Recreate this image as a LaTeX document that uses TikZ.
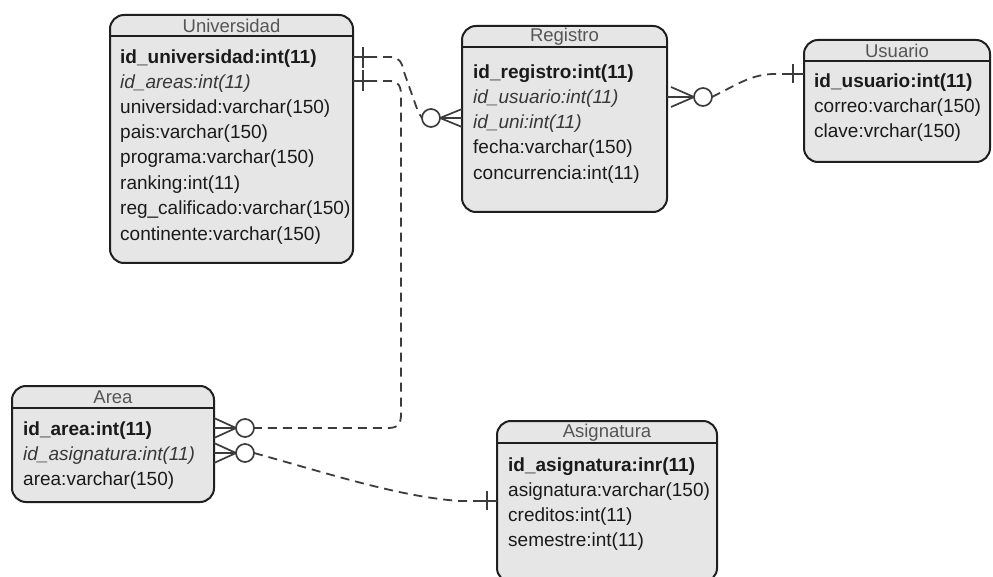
\documentclass[tikz,border=0pt]{standalone}
\usepackage{fontspec}
\setmainfont{Liberation Sans}
\definecolor{boxfill}{HTML}{E6E6E6}
\definecolor{boxline}{HTML}{1F1F1F}
\definecolor{titlegray}{HTML}{555555}
\definecolor{fieldtext}{HTML}{1A1A1A}
\definecolor{fkgray}{HTML}{383838}
\definecolor{linegray}{HTML}{3C3C3C}
\begin{document}
\begin{tikzpicture}[x=1pt,y=-1pt,
  table/.style={draw=boxline, line width=2pt, fill=boxfill, rounded corners=14pt,
    inner sep=0pt, outer sep=0pt, anchor=north west},
  hdr/.style={draw=boxline, line width=2pt},
  ttl/.style={font=\fontsize{18.5}{22}\selectfont, text=titlegray, inner sep=0pt},
  fld/.style={font=\fontsize{19}{23}\selectfont, text=fieldtext, anchor=west, inner sep=0pt},
  pkey/.style={fld, font=\fontsize{19}{23}\selectfont\bfseries},
  fkey/.style={fld, font=\fontsize{19}{23}\selectfont\itshape, text=fkgray},
  rel/.style={draw=linegray, line width=1.8pt, dash pattern=on 9pt off 6pt},
  solidend/.style={draw=linegray, line width=1.7pt},
  ring/.style={circle, draw=linegray, line width=1.7pt, fill=white, minimum size=18pt,
    inner sep=0pt, outer sep=0pt}
]
\clip (0,0) rectangle (993,577);
\fill[white] (0,0) rectangle (993,577);

% ---------- Universidad ----------
\node[table, minimum width=243pt, minimum height=248pt] (uni) at (110,15) {};
\draw[hdr] (uni.west |- 0,36) -- (uni.east |- 0,36);
\node[ttl] (uniT) at (231.5,25.5) {Universidad};
\node[pkey] (u1) at (120,59) {id\_universidad:int(11)};
\node[fkey] (u2) at (120,84) {id\_areas:int(11)};
\node[fld]  (u3) at (120,109) {universidad:varchar(150)};
\node[fld]  (u4) at (120,134) {pais:varchar(150)};
\node[fld]  (u5) at (120,159) {programa:varchar(150)};
\node[fld]  (u6) at (120,184.5) {ranking:int(11)};
\node[fld]  (u7) at (120,210) {reg\_calificado:varchar(150)};
\node[fld]  (u8) at (120,235.5) {continente:varchar(150)};

% ---------- Registro ----------
\node[table, minimum width=205pt, minimum height=186pt] (reg) at (462,26) {};
\draw[hdr] (reg.west |- 0,47) -- (reg.east |- 0,47);
\node[ttl] (regT) at (564.5,36.5) {Registro};
\node[pkey] (r1) at (473,73.5) {id\_registro:int(11)};
\node[fkey] (r2) at (473,98.5) {id\_usuario:int(11)};
\node[fkey] (r3) at (473,123.5) {id\_uni:int(11)};
\node[fld]  (r4) at (473,149) {fecha:varchar(150)};
\node[fld]  (r5) at (473,174.5) {concurrencia:int(11)};

% ---------- Usuario ----------
\node[table, minimum width=186pt, minimum height=122pt] (usr) at (804,40) {};
\draw[hdr] (usr.west |- 0,61) -- (usr.east |- 0,61);
\node[ttl] (usrT) at (897,50.5) {Usuario};
\node[pkey] (s1) at (814,83) {id\_usuario:int(11)};
\node[fld]  (s2) at (814,108) {correo:varchar(150)};
\node[fld]  (s3) at (814,133) {clave:vrchar(150)};

% ---------- Area ----------
\node[table, minimum width=202pt, minimum height=116pt] (area) at (12,386) {};
\draw[hdr] (area.west |- 0,408) -- (area.east |- 0,408);
\node[ttl] (areaT) at (113,397.5) {Area};
\node[pkey] (a1) at (23,430.5) {id\_area:int(11)};
\node[fkey] (a2) at (23,455.5) {id\_asignatura:int(11)};
\node[fld]  (a3) at (23,481) {area:varchar(150)};

% ---------- Asignatura ----------
\node[table, minimum width=220pt, minimum height=161pt] (asig) at (497,421) {};
\draw[hdr] (asig.west |- 0,443) -- (asig.east |- 0,443);
\node[ttl] (asigT) at (607,432.5) {Asignatura};
\node[pkey] (g1) at (508,466.5) {id\_asignatura:inr(11)};
\node[fld]  (g2) at (508,491.5) {asignatura:varchar(150)};
\node[fld]  (g3) at (508,516.5) {creditos:int(11)};
\node[fld]  (g4) at (508,542) {semestre:int(11)};

% ---------- relationship end markers ----------
\node[ring] (c1) at (431,118) {};
\node[ring] (c2) at (245,428) {};
\node[ring] (c3) at (245,453) {};
\node[ring] (c4) at (703,97) {};

\coordinate (t1) at (363,57);
\coordinate (t2) at (363,81);
\coordinate (t3) at (487,501);
\coordinate (t4) at (793,74);

% crow's feet (many)
\draw[solidend] (c1.east) -- (reg.west |- 0,109) (c1.east) -- (reg.west |- 0,127) (c1.east) -- (reg.west |- 0,118);
\draw[solidend] (c2.west) -- (area.east |- 0,418) (c2.west) -- (area.east |- 0,438) (c2.west) -- (area.east |- 0,428);
\draw[solidend] (c3.west) -- (area.east |- 0,443) (c3.west) -- (area.east |- 0,463) (c3.west) -- (area.east |- 0,453);
\draw[solidend] (c4.west) -- (671,87) (c4.west) -- (671,107) (c4.west) -- (reg.east |- c4);

% single bars (one)
\draw[solidend] (uni.east |- t1) -- ([xshift=5pt]t1) ([yshift=-11pt]t1) -- ([yshift=10pt]t1);
\draw[solidend] (uni.east |- t2) -- ([xshift=5pt]t2) ([yshift=-10pt]t2) -- ([yshift=11pt]t2);
\draw[solidend] (asig.west |- t3) -- ([xshift=-5pt]t3) ([yshift=-9pt]t3) -- ([yshift=10pt]t3);
\draw[solidend] (usr.west |- t4) -- ([xshift=-5pt]t4) ([yshift=-9pt]t4) -- ([yshift=10pt]t4);

% ---------- relationships ----------
\draw[rel] ([xshift=5pt]t1) -- (390,57) .. controls (399,57) and (402,62) .. (404,72)
  -- (416,106) .. controls (418,112) and (420,115) .. (c1.west);
\draw[rel] ([xshift=5pt]t2) -- (390,81) .. controls (398,81) and (401,86) .. (401,95)
  -- (401,414) .. controls (401,424) and (398,428) .. (388,428) -- (c2.east);
\draw[rel] (c3.east) .. controls (330,474) and (400,497) .. (460,501) -- ([xshift=-5pt]t3);
\draw[rel] (c4.east) .. controls (738,84) and (752,74) .. (775,74) -- ([xshift=-5pt]t4);
\end{tikzpicture}
\end{document}
